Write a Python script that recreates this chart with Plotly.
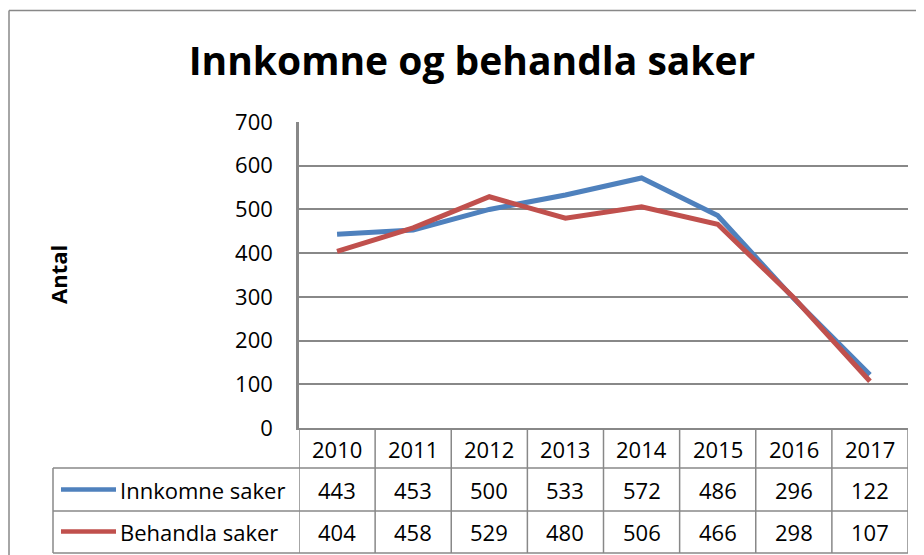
import plotly.graph_objects as go

years = ["2010", "2011", "2012", "2013", "2014", "2015", "2016", "2017"]
innkomne = [443, 453, 500, 533, 572, 486, 296, 122]
behandla = [404, 458, 529, 480, 506, 466, 298, 107]
series_names = ["Innkomne saker", "Behandla saker"]
colors = ["#4F81BD", "#C0504D"]
y_ticks = [0, 100, 200, 300, 400, 500, 600, 700]

OFF = 8  # page body margin
W, H = 924 - OFF, 555 - OFF
L, R, T, B = 299 - OFF, 908 - OFF, 122 - OFF, 428 - OFF  # plot area in figure pixels
FONT = "Open Sans"
GREY = "#888888"
FS = 22


def px(X):
    # X given in window pixels
    return (X - OFF - L) / (R - L)


def py(Y):
    return (B - (Y - OFF)) / (B - T)


fig = go.Figure()
for name, vals, c in zip(series_names, [innkomne, behandla], colors):
    fig.add_trace(go.Scatter(x=years, y=vals, mode="lines", name=name,
                             line=dict(color=c, width=5)))

shapes = []
# outer chart border
shapes.append(dict(type="line", xref="paper", yref="paper", x0=px(9), x1=px(940),
                   y0=py(10.5), y1=py(10.5), line=dict(color=GREY, width=1.5)))
shapes.append(dict(type="line", xref="paper", yref="paper", x0=px(9), x1=px(9),
                   y0=py(10.5), y1=py(570), line=dict(color=GREY, width=1.5)))

row_lines = [468, 511, 553]
for Y in row_lines:
    shapes.append(dict(type="line", xref="paper", yref="paper", x0=px(53), x1=1,
                       y0=py(Y), y1=py(Y), line=dict(color=GREY, width=1.5)))
shapes.append(dict(type="line", xref="paper", yref="paper", x0=px(53), x1=px(53),
                   y0=py(468), y1=py(553), line=dict(color=GREY, width=1.5)))
for k in range(len(years) + 1):
    shapes.append(dict(type="line", xref="x", yref="paper", x0=k - 0.5, x1=k - 0.5,
                       y0=py(428), y1=py(553), line=dict(color=GREY, width=1.5)))
# legend keys
row_centers = [489.5, 531.5]
for c, Yc in zip(colors, row_centers):
    shapes.append(dict(type="line", xref="paper", yref="paper", x0=px(61), x1=px(116),
                       y0=py(Yc), y1=py(Yc), line=dict(color=c, width=4.5)))

annotations = []
for i, yr in enumerate(years):
    annotations.append(dict(x=i, y=py(449), xref="x", yref="paper", text=yr,
                            showarrow=False, xanchor="center", yanchor="middle",
                            font=dict(family=FONT, size=FS, color="#000")))
for name, vals, Yc in zip(series_names, [innkomne, behandla], row_centers):
    annotations.append(dict(x=px(118), y=py(Yc), xref="paper", yref="paper", text=name,
                            showarrow=False, xanchor="left", yanchor="middle",
                            font=dict(family=FONT, size=FS, color="#000")))
    for i, v in enumerate(vals):
        annotations.append(dict(x=i, y=py(Yc), xref="x", yref="paper", text=str(v),
                                showarrow=False, xanchor="center", yanchor="middle",
                                font=dict(family=FONT, size=FS, color="#000")))
annotations.append(dict(x=px(58), y=py(275), xref="paper", yref="paper", text="<b>Antal</b>",
                        showarrow=False, textangle=-90, xanchor="center", yanchor="middle",
                        font=dict(family=FONT, size=FS, color="#000")))

fig.update_layout(
    width=W, height=H,
    margin=dict(l=L, r=W - R, t=T, b=H - B, pad=0),
    paper_bgcolor="white", plot_bgcolor="white",
    showlegend=False,
    title=dict(text="<b>Innkomne og behandla saker</b>", x=(472 - OFF) / W, xanchor="center",
               xref="container", yref="container", y=1 - (61 - OFF) / H, yanchor="middle",
               font=dict(family=FONT, size=39, color="#000")),
    xaxis=dict(type="category", range=[-0.5, len(years) - 0.5], showgrid=False,
               showticklabels=False, ticks="", zeroline=False,
               showline=True, linecolor=GREY, linewidth=1.5),
    yaxis=dict(range=[0, 700], tickvals=y_ticks, showgrid=True, gridcolor=GREY,
               gridwidth=1.5, zeroline=False, showline=True, linecolor=GREY, linewidth=2.5,
               ticks="", ticklabelstandoff=19,
               tickfont=dict(family=FONT, size=FS, color="#000")),
    shapes=shapes, annotations=annotations,
)

fig.write_html("out.html")
